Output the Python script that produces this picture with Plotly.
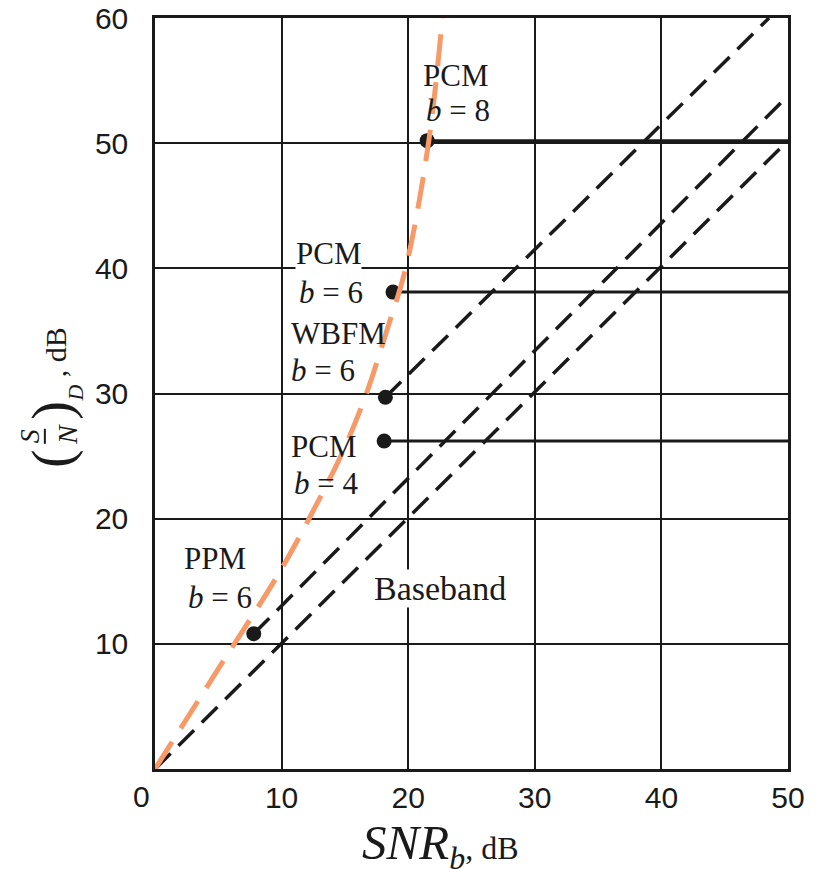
import plotly.graph_objects as go

# ---------------- data ----------------
baseband_x = [0, 49.6]
baseband_y = [0, 49.8]

ppm_x = [7.8, 50]
ppm_y = [10.8, 53.8]

wbfm_x = [18.2, 48.5]
wbfm_y = [29.7, 60]

pcm_b = [4, 6, 8]
pcm_x0 = [18.1, 18.8, 21.5]
pcm_y = [26.2, 38.1, 50.2]
pcm_x1 = 50

threshold_x = [0, 5, 10, 13.2, 14.9, 16.7, 18.3, 19.8, 21.6, 22.7]
threshold_y = [0, 8, 16, 22, 25.5, 30, 35, 40, 50, 60]

x_ticks = [10, 20, 30, 40, 50]
x_ticktext = ["10", "20", "30", "40", "50"]
y_ticks = [10, 20, 30, 40, 50, 60]
y_ticktext = ["10", "20", "30", "40", "50", "60"]

INK = "#1a1a1a"
ORANGE = "#F79A68"
SERIF = "Liberation Serif"
SANS = "Liberation Sans"

fig = go.Figure()

dash_black = dict(color=INK, width=3.5, dash="22px,11px")

fig.add_trace(go.Scatter(x=baseband_x, y=baseband_y, mode="lines", line=dash_black,
                         showlegend=False, hoverinfo="skip"))
fig.add_trace(go.Scatter(x=ppm_x, y=ppm_y, mode="lines", line=dash_black,
                         showlegend=False, hoverinfo="skip"))
fig.add_trace(go.Scatter(x=wbfm_x, y=wbfm_y, mode="lines", line=dash_black,
                         showlegend=False, hoverinfo="skip"))

for x0, yv in zip(pcm_x0, pcm_y):
    fig.add_trace(go.Scatter(x=[x0, pcm_x1], y=[yv, yv], mode="lines",
                             line=dict(color=INK, width=3),
                             showlegend=False, hoverinfo="skip"))

dot_x = [ppm_x[0], wbfm_x[0]] + pcm_x0
dot_y = [ppm_y[0], wbfm_y[0]] + pcm_y
fig.add_trace(go.Scatter(x=dot_x, y=dot_y, mode="markers",
                         marker=dict(color=INK, size=15),
                         showlegend=False, hoverinfo="skip", cliponaxis=False))

fig.add_trace(go.Scatter(x=threshold_x, y=threshold_y, mode="lines",
                         line=dict(color=ORANGE, width=5, dash="32px,16px", shape="spline"),
                         showlegend=False, hoverinfo="skip"))

def label(x, y, text, bg=None, size=31):
    fig.add_annotation(x=x, y=y, xref="x", yref="y", text=text, showarrow=False,
                       xanchor="left", yanchor="middle",
                       font=dict(family=SERIF, size=size, color=INK),
                       bgcolor=bg if bg else "rgba(0,0,0,0)", borderpad=0)

label(21.1, 55.4, "PCM")
label(21.3, 52.6, "<i>b</i> = 8")
label(11.06, 41.2, "PCM", bg="white")
label(11.3, 38.1, "<i>b</i> = 6")
label(10.66, 34.8, "WBFM")
label(10.66, 31.8, "<i>b</i> = 6")
label(10.66, 25.8, "PCM")
label(10.9, 22.8, "<i>b</i> = 4")
label(2.2, 16.8, "PPM")
label(2.5, 13.7, "<i>b</i> = 6")
label(17.2, 14.4, "Baseband", bg="white", size=34)

fig.add_annotation(x=0, y=-0.037, xref="x", yref="paper", text="0", showarrow=False,
                   xanchor="right", yanchor="middle", xshift=-3,
                   font=dict(family=SANS, size=30, color=INK))

fig.add_annotation(x=0.450, y=-0.102, xref="paper", yref="paper",
                   text="<i>SNR</i><sub><i><span style='font-size:32px'>b</span></i></sub>"
                        "<span style='font-size:32px'>, dB</span>",
                   showarrow=False, xanchor="center", yanchor="middle",
                   font=dict(family=SERIF, size=49, color=INK))

def ytitle(x, y, text, size):
    fig.add_annotation(x=x, y=y, xref="paper", yref="paper", text=text, showarrow=False,
                       textangle=-90, xanchor="center", yanchor="middle",
                       font=dict(family=SERIF, size=size, color=INK))

ytitle(-0.161, 0.413, "(", 56)
ytitle(-0.199, 0.443, "<i>S</i>", 28)
ytitle(-0.137, 0.445, "<i>N</i>", 28)
ytitle(-0.161, 0.477, ")", 56)
ytitle(-0.125, 0.501, "<i>D</i>", 22)
ytitle(-0.158, 0.555, ", dB", 30)
fig.add_shape(type="line", xref="paper", yref="paper", x0=-0.174, x1=-0.174,
              y0=0.433, y1=0.453, line=dict(color=INK, width=2))

fig.update_layout(
    width=822, height=869, autosize=False,
    margin=dict(l=155, r=34, t=18, b=100, pad=0, autoexpand=False),
    paper_bgcolor="white", plot_bgcolor="white",
    xaxis=dict(range=[0, 50], tickvals=x_ticks, ticktext=x_ticktext,
               showgrid=True, gridcolor=INK, gridwidth=2, zeroline=False,
               showline=True, linecolor=INK, linewidth=2.5, mirror=True,
               ticks="", ticklen=0, ticklabelstandoff=0, automargin=False,
               tickfont=dict(family=SANS, size=30, color=INK)),
    yaxis=dict(range=[0, 60], tickvals=y_ticks, ticktext=y_ticktext,
               showgrid=True, gridcolor=INK, gridwidth=2, zeroline=False,
               showline=True, linecolor=INK, linewidth=2.5, mirror=True,
               ticks="", ticklen=0, ticklabelstandoff=18, automargin=False,
               tickfont=dict(family=SANS, size=30, color=INK)),
)

fig.write_html("out.html", config={"displayModeBar": False},
               post_script="document.body.style.margin='0px';document.body.style.overflow='hidden';")
